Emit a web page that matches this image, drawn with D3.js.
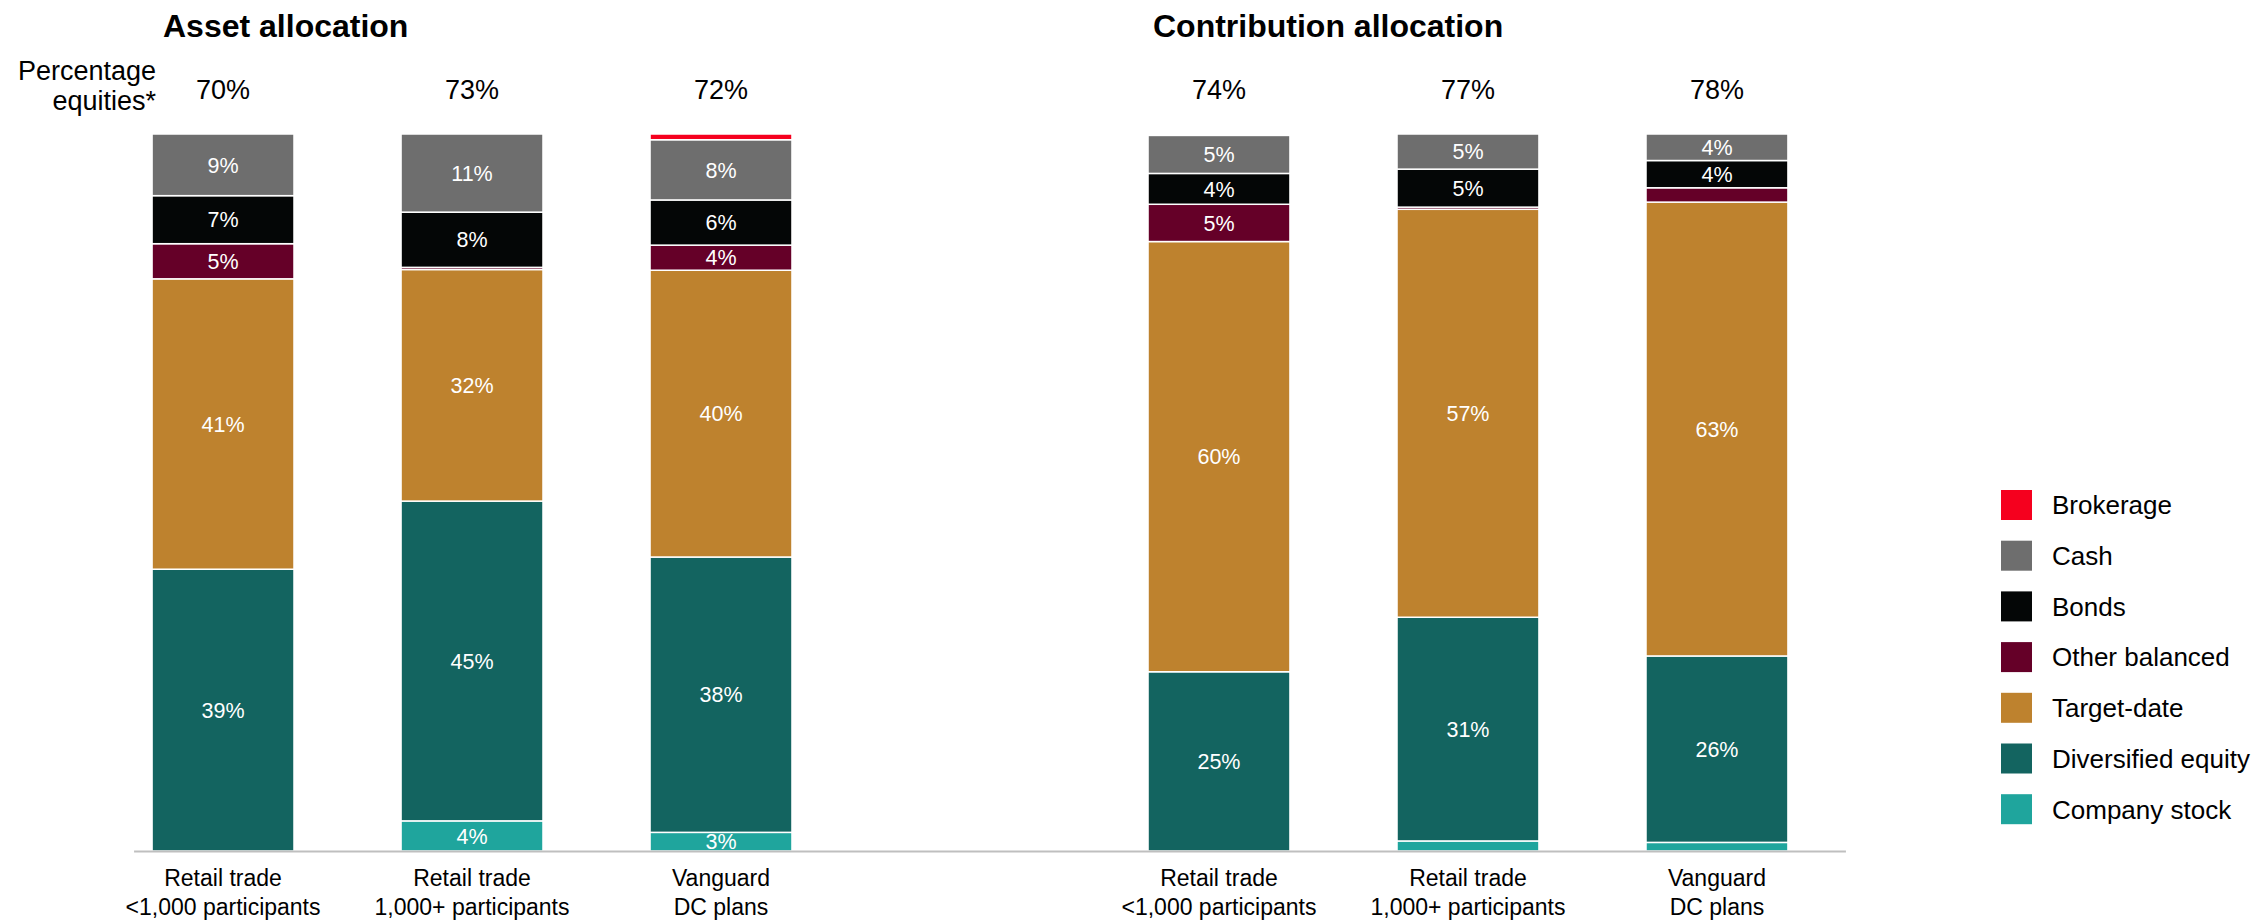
<!DOCTYPE html>
<html>
<head>
<meta charset="utf-8">
<script src="https://cdn.jsdelivr.net/npm/d3@7"></script>
<style>
  body { margin: 0; background: #fff; }
  text { font-family: "Liberation Sans", Arial, sans-serif; }
</style>
</head>
<body>
<svg id="svg"></svg>
<script>
// categories (one empty slot separates the two panels)
let categories = ["a1", "a2", "a3", "gap", "c1", "c2", "c3"];
let catLabels = {
    a1: ["Retail trade", "<1,000 participants"],
    a2: ["Retail trade", "1,000+ participants"],
    a3: ["Vanguard", "DC plans"],
    c1: ["Retail trade", "<1,000 participants"],
    c2: ["Retail trade", "1,000+ participants"],
    c3: ["Vanguard", "DC plans"]
};
let equityPct = { a1: 70, a2: 73, a3: 72, c1: 74, c2: 77, c3: 78 };

// series, bottom to top
let seriesNames = ["Company stock", "Diversified equity", "Target-date",
                   "Other balanced", "Bonds", "Cash", "Brokerage"];
let seriesColors = ["#1fa59d", "#136460", "#be822e", "#650028",
                    "#040606", "#6e6e6e", "#f5001e"];

let companyStock      = [0.0, 4.2, 2.6, 0, 0.0, 1.4, 1.2];
let diversifiedEquity = [39.3, 44.6, 38.4, 0, 25.0, 31.2, 26.0];
let targetDate        = [40.5, 32.3, 40.0, 0, 60.0, 56.9, 63.3];
let otherBalanced     = [4.9, 0.3, 3.5, 0, 5.2, 0.3, 2.0];
let bonds             = [6.7, 7.7, 6.3, 0, 4.3, 5.3, 3.8];
let cash              = [8.6, 10.9, 8.4, 0, 5.3, 4.9, 3.7];
let brokerage         = [0.0, 0.0, 0.8, 0, 0.0, 0.0, 0.0];

let panelTitles = ["Asset allocation", "Contribution allocation"];

function sketch() {
    let width = 2265, height = 922;
    let svg = d3.select("#svg")
        .attr("width", width)
        .attr("height", height);

    let seriesValues = [companyStock, diversifiedEquity, targetDate,
                        otherBalanced, bonds, cash, brokerage];

    // build rows for d3.stack
    let rows = categories.map((c, i) => {
        let r = { cat: c };
        seriesNames.forEach((s, j) => r[s] = seriesValues[j][i]);
        return r;
    });
    let stacked = d3.stack().keys(seriesNames)(rows);

    let x = d3.scaleBand()
        .domain(categories)
        .range([45, 1895])
        .padding(0.43);
    let y = d3.scaleLinear()
        .domain([0, 100])
        .range([851, 134]);
    let color = d3.scaleOrdinal().domain(seriesNames).range(seriesColors);

    let g = svg.append("g");

    let layers = g.selectAll("g.layer")
        .data(stacked)
        .enter()
        .append("g")
        .attr("class", "layer")
        .attr("fill", (d) => color(d.key));

    layers.selectAll("rect")
        .data((d) => d.filter((p) => p.data.cat !== "gap" && p[1] - p[0] > 0))
        .enter()
        .append("rect")
        .attr("x", (d) => x(d.data.cat))
        .attr("width", x.bandwidth())
        .attr("y", (d) => y(d[1]))
        .attr("height", (d) => y(d[0]) - y(d[1]))
        .attr("stroke", "#fff")
        .attr("stroke-width", 1.5);

    // segment labels
    layers.selectAll("text")
        .data((d) => d.filter((p) => p.data.cat !== "gap" && p[1] - p[0] >= 2.5))
        .enter()
        .append("text")
        .attr("x", (d) => x(d.data.cat) + x.bandwidth() / 2)
        .attr("y", (d) => y((d[0] + d[1]) / 2))
        .attr("dy", ".36em")
        .attr("text-anchor", "middle")
        .attr("fill", "#fff")
        .attr("font-size", "21.5px")
        .text((d) => Math.round(d[1] - d[0]) + "%");

    // baseline
    g.append("line")
        .attr("x1", x(categories[0]) - 18)
        .attr("x2", x(categories[categories.length - 1]) + x.bandwidth() + 58)
        .attr("y1", y(0) + 0.5)
        .attr("y2", y(0) + 0.5)
        .attr("stroke", "#bfbfbf")
        .attr("stroke-width", 2);

    let realCats = categories.filter((c) => c !== "gap");

    // category labels
    let catText = g.selectAll("text.cat")
        .data(realCats)
        .enter()
        .append("text")
        .attr("class", "cat")
        .attr("text-anchor", "middle")
        .attr("font-size", "23px")
        .attr("fill", "#000")
        .attr("x", (d) => x(d) + x.bandwidth() / 2)
        .attr("y", 886);
    catText.selectAll("tspan")
        .data((d) => catLabels[d])
        .enter()
        .append("tspan")
        .attr("x", function() { return d3.select(this.parentNode).attr("x"); })
        .attr("dy", (d, i) => i === 0 ? 0 : 29)
        .text((d) => d);

    // percentage equities
    g.selectAll("text.eq")
        .data(realCats)
        .enter()
        .append("text")
        .attr("class", "eq")
        .attr("text-anchor", "middle")
        .attr("font-size", "27px")
        .attr("x", (d) => x(d) + x.bandwidth() / 2)
        .attr("y", 99)
        .text((d) => equityPct[d] + "%");

    let eqHead = g.append("text")
        .attr("text-anchor", "end")
        .attr("font-size", "27px")
        .attr("x", 156)
        .attr("y", 80);
    eqHead.append("tspan").attr("x", 156).text("Percentage");
    eqHead.append("tspan").attr("x", 156).attr("dy", 30).text("equities*");

    // panel titles
    g.selectAll("text.title")
        .data(panelTitles)
        .enter()
        .append("text")
        .attr("class", "title")
        .attr("font-size", "32px")
        .attr("font-weight", "bold")
        .attr("x", (d, i) => i === 0 ? 163 : 1153)
        .attr("y", 37)
        .text((d) => d);

    // legend, top entry is Brokerage
    let legendItems = seriesNames.slice().reverse();
    let legend = g.selectAll("g.legend")
        .data(legendItems)
        .enter()
        .append("g")
        .attr("class", "legend")
        .attr("transform", (d, i) => "translate(2001," + (490 + i * 50.7) + ")");
    legend.append("rect")
        .attr("width", 31)
        .attr("height", 30)
        .attr("fill", (d) => color(d));
    legend.append("text")
        .attr("x", 51)
        .attr("y", 15)
        .attr("dy", ".36em")
        .attr("font-size", "26px")
        .text((d) => d);
}
sketch();
</script>
</body>
</html>
